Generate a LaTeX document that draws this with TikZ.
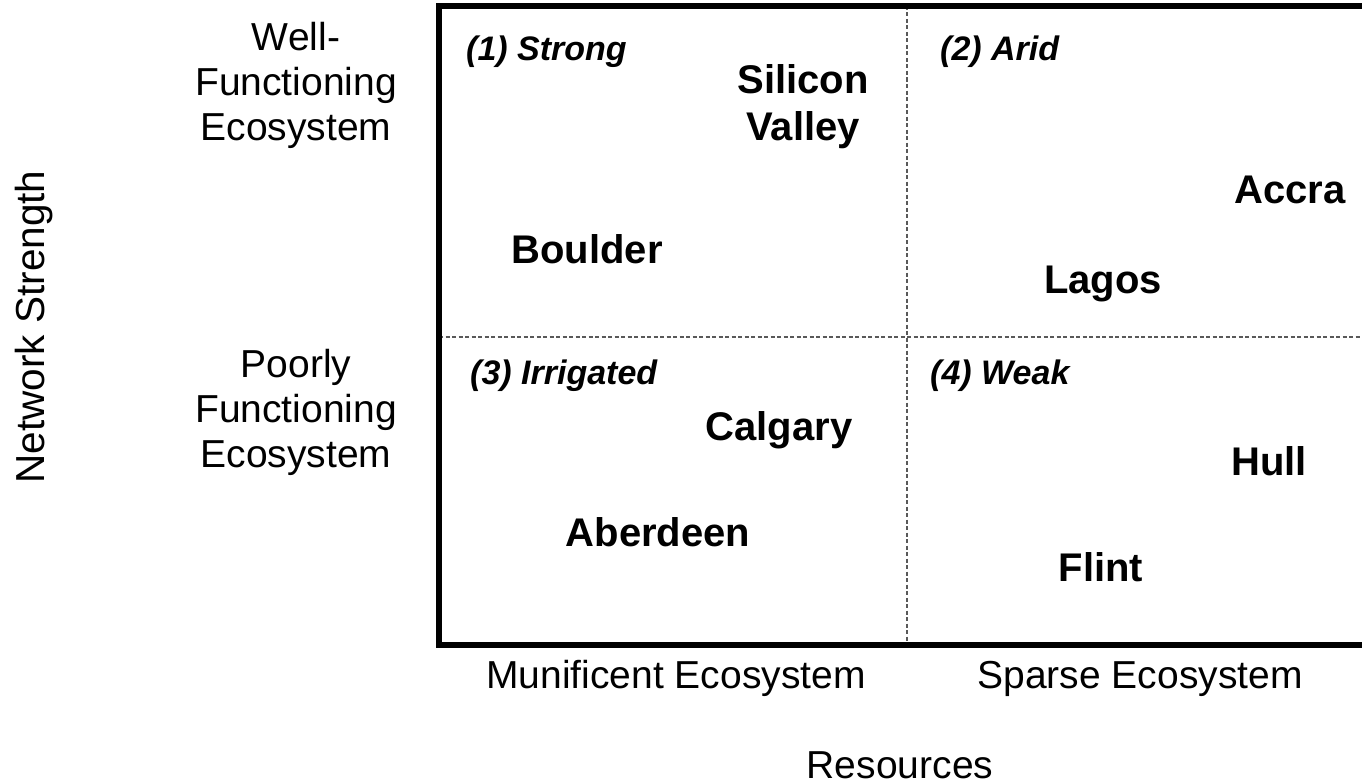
\documentclass[tikz,border=0pt]{standalone}
\usepackage{fontspec}
\setmainfont{Liberation Sans}
\usetikzlibrary{positioning}
\tikzset{axislabel/.style={font=\fontsize{39}{45}\selectfont, align=center, inner sep=0pt, anchor=base},
city/.style={font=\fontsize{40}{47}\selectfont\bfseries, align=center, inner sep=0pt, anchor=base},
quadrant/.style={font=\fontsize{34}{38}\selectfont\bfseries\itshape, inner sep=0pt, anchor=base west},
%thin grey divider between the four quadrants
divider/.style={draw=black!65, line width=1.3pt, dash pattern=on 4pt off 2.5pt}}

\begin{document}
\begin{tikzpicture}[x=1pt,y=-1pt]
\clip (0,0) rectangle (1362,784);
%\draw[step=50,color=gray] (0,0) grid (1362,784);
\coordinate (topleft) at (439,6);
\coordinate (botleft) at (439,645);
\coordinate (topright) at (1380,6);
\coordinate (botright) at (1380,645);
\coordinate (midtop) at (907,6);
\coordinate (midbot) at (907,645);
\coordinate (midleft) at (439,337);
\coordinate (midright) at (1380,337);
\draw[divider] (midtop) -- (midbot);
\draw[divider] (midleft) -- (midright);
\draw[line width=6pt] (topright) -- (topleft) -- (botleft) -- (botright);
% axis labels (base = last line)
\node[axislabel] (wellfunc) at (296,140) {Well-\\Functioning\\Ecosystem};
\node[axislabel] (poorfunc) at (296,467) {Poorly\\Functioning\\Ecosystem};
\node[axislabel, rotate=90, font=\fontsize{40.5}{45}\selectfont] (network) at (44,327) {Network Strength};
\node[axislabel] (munificent) at (676,688) {Munificent Ecosystem};
\node[axislabel] (sparse) at (1140,688) {Sparse Ecosystem};
\node[axislabel] (resources) at (900,778) {Resources};
% quadrant titles
\node[quadrant] (strong) at (466,60) {(1) Strong};
\node[quadrant] (arid) at (940,60) {(2) Arid};
\node[quadrant] (irrigated) at (470,384) {(3) Irrigated};
\node[quadrant] (weak) at (930,384) {(4) Weak};
% cities
\node[city] (silicon) at (803,140) {Silicon\\Valley};
\node[city] (accra) at (1290,203) {Accra};
\node[city] (boulder) at (587,263) {Boulder};
\node[city] (lagos) at (1103,293) {Lagos};
\node[city] (calgary) at (779,440) {Calgary};
\node[city] (hull) at (1269,475) {Hull};
\node[city] (aberdeen) at (658,546) {Aberdeen};
\node[city] (flint) at (1101,581) {Flint};
\end{tikzpicture}
\end{document}
